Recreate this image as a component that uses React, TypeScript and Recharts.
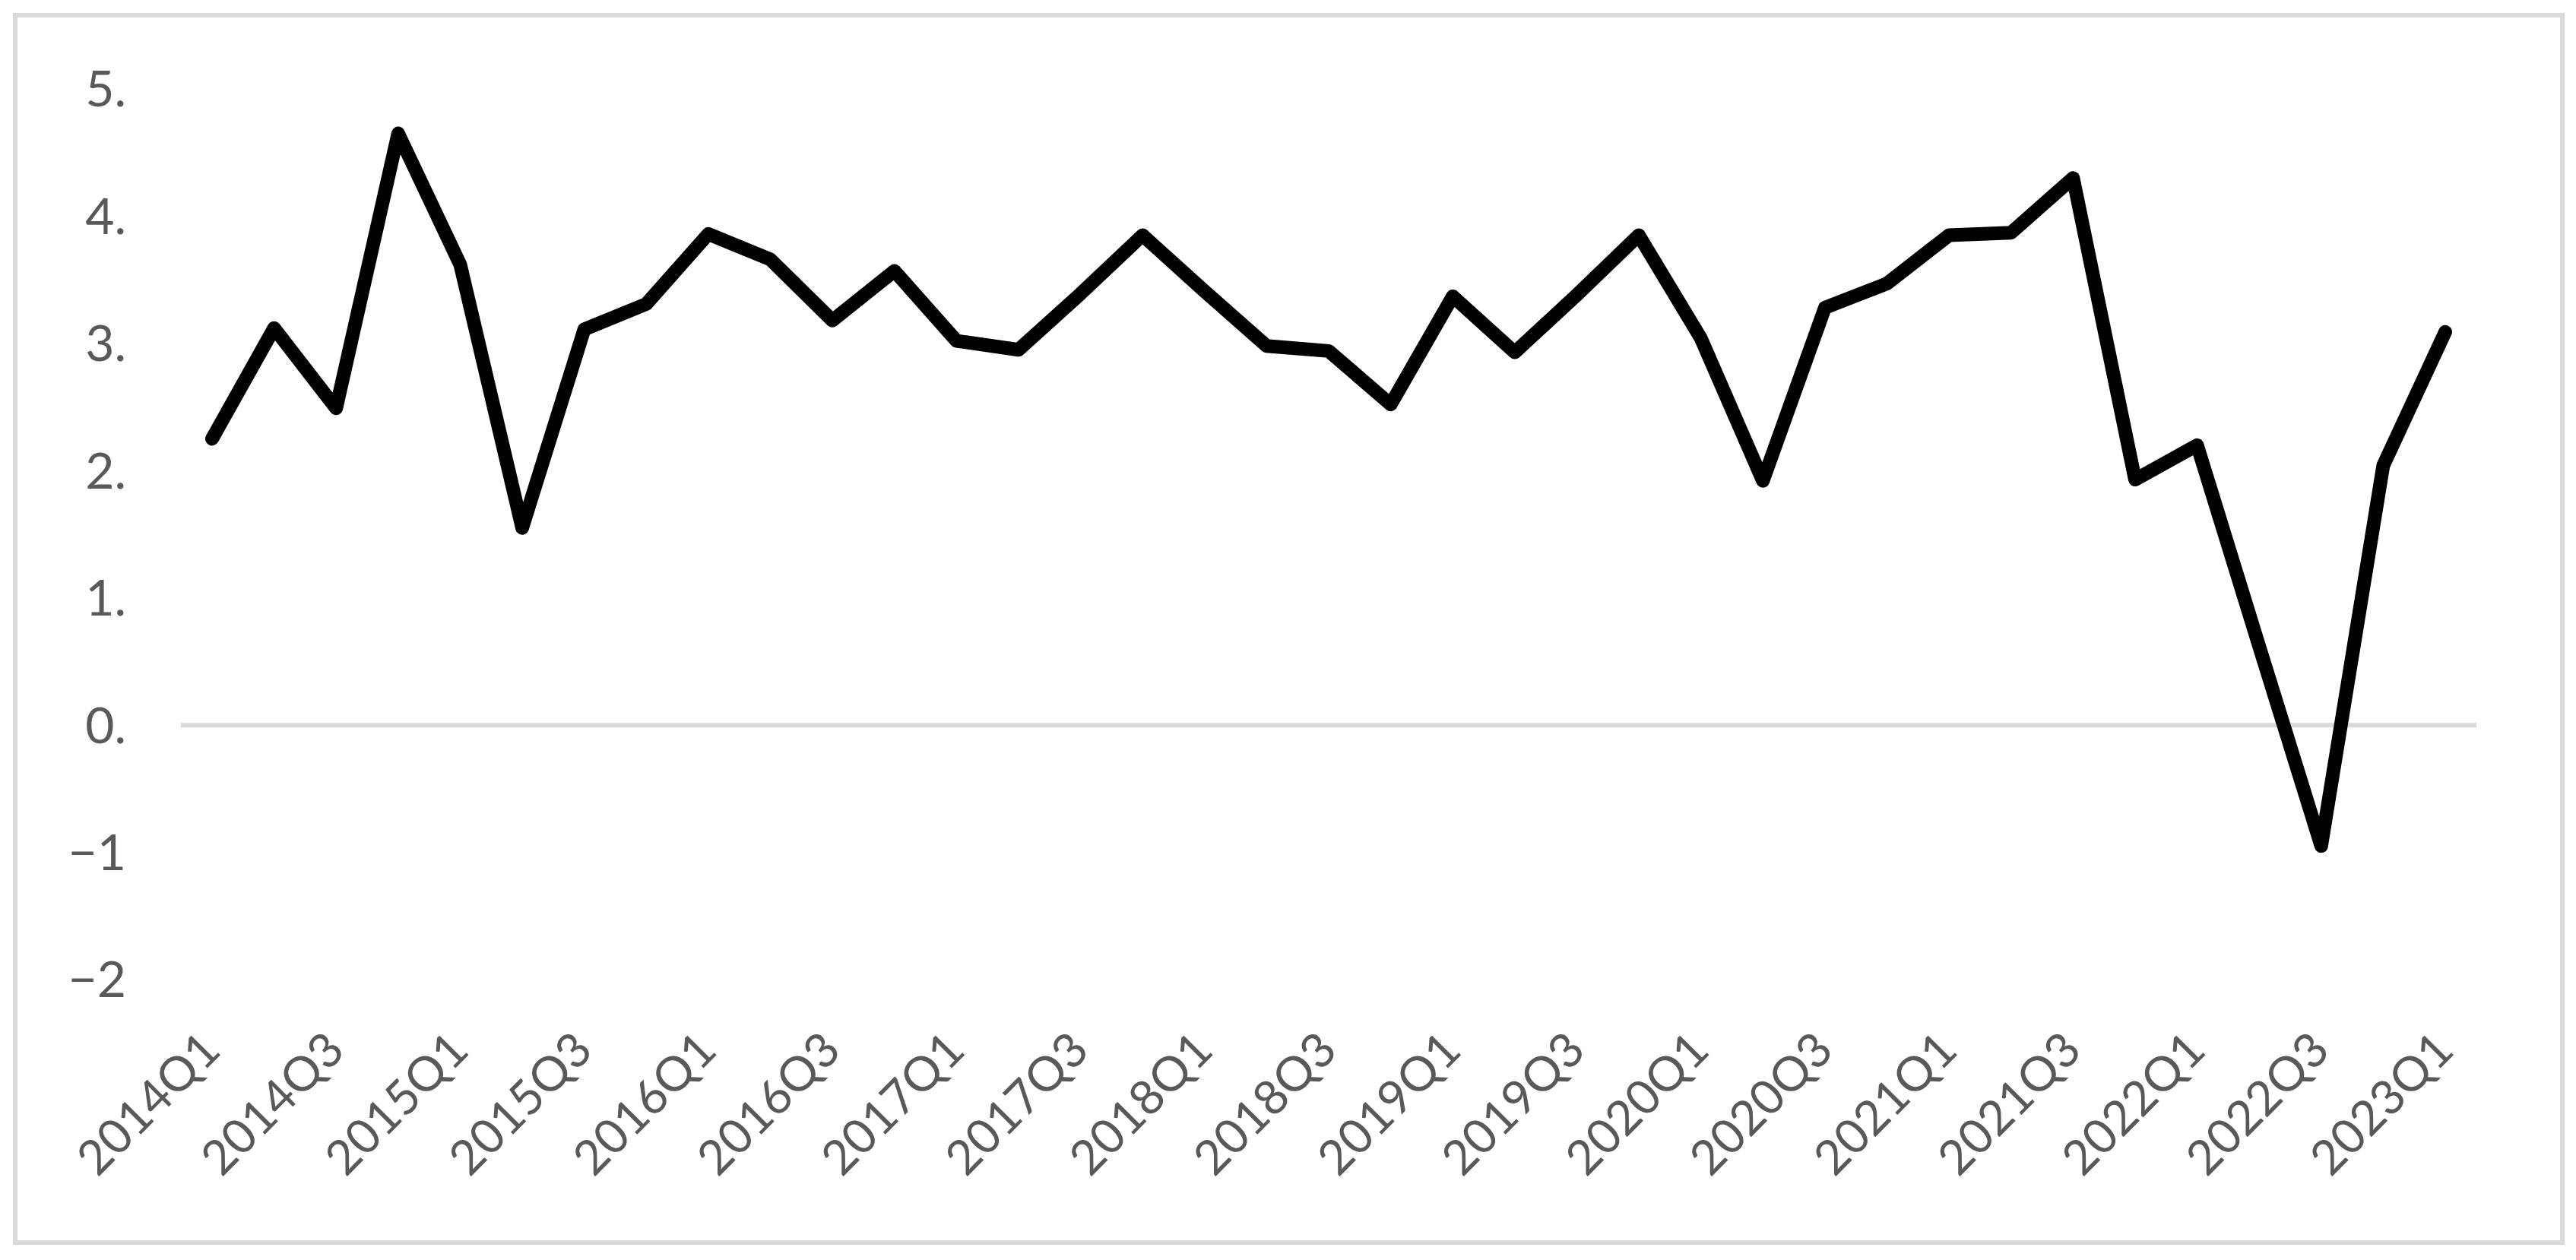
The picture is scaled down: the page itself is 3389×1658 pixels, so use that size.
import React from 'react';
import { LineChart, Line, XAxis, YAxis, ReferenceLine } from 'recharts';

const quarters = [
    '2014Q1', '2014Q2', '2014Q3', '2014Q4',
    '2015Q1', '2015Q2', '2015Q3', '2015Q4',
    '2016Q1', '2016Q2', '2016Q3', '2016Q4',
    '2017Q1', '2017Q2', '2017Q3', '2017Q4',
    '2018Q1', '2018Q2', '2018Q3', '2018Q4',
    '2019Q1', '2019Q2', '2019Q3', '2019Q4',
    '2020Q1', '2020Q2', '2020Q3', '2020Q4',
    '2021Q1', '2021Q2', '2021Q3', '2021Q4',
    '2022Q1', '2022Q2', '2022Q3', '2022Q4',
    '2023Q1',
];

const values = [
    2.25, 3.12, 2.49, 4.65,
    3.62, 1.55, 3.11, 3.31,
    3.86, 3.66, 3.18, 3.57,
    3.02, 2.95, 3.39, 3.85,
    3.41, 2.98, 2.94, 2.52,
    3.37, 2.93, 3.38, 3.85,
    3.04, 1.92, 3.28, 3.47,
    3.85, 3.87, 4.3, 1.93,
    2.2, 0.62, -0.95, 2.04,
    3.09,
];

const yTicks = [-2, -1, 0, 1, 2, 3, 4, 5];
const yTickLabels = ['\u22122', '\u22121', '0.', '1.', '2.', '3.', '4.', '5.'];

const data = quarters.map((q, i) => ({ quarter: q, value: values[i] }));

const FONT = 'Lato, "Open Sans", sans-serif';
const TEXT = '#595959';

function XTick({ x, y, payload }: any) {
    return (
        <g transform={`translate(${x - 2},${y + 80})`}>
            <text
                textAnchor="end"
                dy="0.36em"
                transform="rotate(-45)"
                fill={TEXT}
                fontSize={63}
                fontFamily={FONT}
            >
                {payload.value}
            </text>
        </g>
    );
}

export default function App() {
    return (
        <div style={{ position: 'absolute', left: 0, top: 0, width: 3389, height: 1658, background: '#fff' }}>
            <div
                style={{
                    position: 'absolute',
                    left: 17,
                    top: 17,
                    width: 3357,
                    height: 1621,
                    border: '6px solid #d9d9d9',
                    boxSizing: 'border-box',
                }}
            />
            <div style={{ position: 'absolute', left: 0, top: 0 }}>
                <LineChart
                    width={3389}
                    height={1658}
                    data={data}
                    margin={{ top: 117, right: 131, bottom: 0, left: 0 }}
                >
                    <XAxis
                        dataKey="quarter"
                        interval={1}
                        height={369}
                        padding={{ left: 41, right: 41 }}
                        axisLine={false}
                        tickLine={false}
                        tickSize={0}
                        tickMargin={0}
                        tick={<XTick />}
                    />
                    <YAxis
                        type="number"
                        domain={[-2, 5]}
                        ticks={yTicks}
                        width={238}
                        axisLine={false}
                        tickLine={false}
                        tickSize={0}
                        tickMargin={72}
                        interval={0}
                        tickFormatter={(v: number) => yTickLabels[yTicks.indexOf(v)]}
                        tick={{ fill: TEXT, fontSize: 66, fontFamily: FONT }}
                    />
                    <ReferenceLine y={0} stroke="#d9d9d9" strokeWidth={6} />
                    <Line
                        type="linear"
                        dataKey="value"
                        stroke="#000"
                        strokeWidth={18}
                        strokeLinecap="round"
                        strokeLinejoin="round"
                        dot={false}
                        activeDot={false}
                        isAnimationActive={false}
                    />
                </LineChart>
            </div>
        </div>
    );
}
